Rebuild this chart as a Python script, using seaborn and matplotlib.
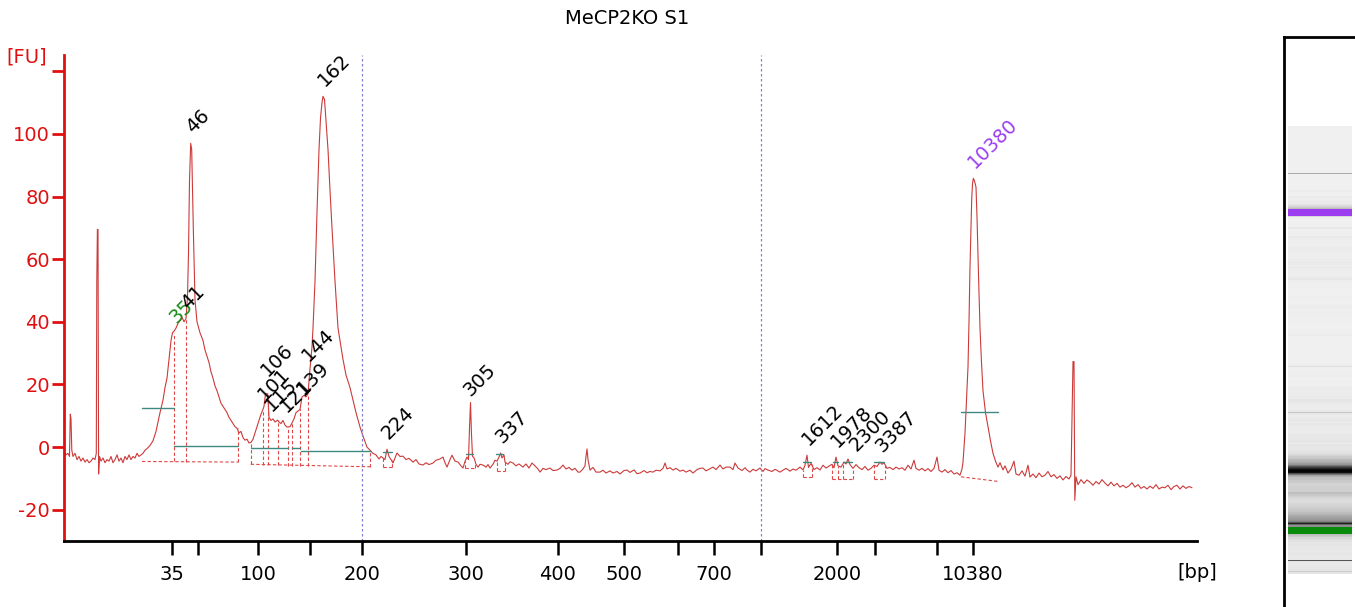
import numpy as np
import pandas as pd
import matplotlib
matplotlib.use("Agg")
import matplotlib.pyplot as plt
from matplotlib.colors import to_rgb
import seaborn as sns

# electropherogram trace: migration position vs fluorescence (FU)
trace_t = [64, 66, 68, 69.5, 70.3, 71, 71.8, 73, 75, 77, 79, 81, 83, 85, 87, 89, 91, 93, 95,
           96.3, 96.8, 97.4, 98, 98.6, 99.5, 101, 103, 105, 107, 109, 111, 113, 115, 117, 119,
           121, 123, 125, 127, 129, 131, 133, 135, 137, 139, 141, 143, 145, 147, 150, 153, 156,
           158, 160, 163, 165, 167, 169, 171, 172.5, 174, 176, 178, 180, 182, 184, 186, 187.5,
           188.5, 189.5, 190.7, 191.7, 193.3, 195, 197, 200, 203, 205, 207, 209, 211, 213, 215,
           217, 219, 221, 223, 225, 227, 229, 231, 233, 235, 237, 239, 241, 243, 245, 247, 249,
           251, 253, 255, 257, 259, 261, 262.7, 264, 265.5, 267.7, 269, 271, 273, 275, 277.7,
           279, 281, 283, 285, 287, 288, 290, 292, 294, 296, 298, 300, 302, 304, 306, 308, 310,
           312, 313, 315, 317, 319, 320.5, 322, 323, 324.5, 326, 328, 330, 332, 335, 338, 340,
           343, 346, 350, 353, 356, 360, 363, 367, 370, 373, 376, 379, 381, 383, 385, 387, 389,
           391, 393, 395, 397, 400, 403, 406, 409, 413, 416, 419, 423, 426, 429, 433, 436, 440,
           443, 445, 447, 450, 452, 455, 458, 461, 463, 465, 467, 468.5, 469.5, 470.5, 471.5,
           472.5, 474, 476, 478, 480, 483, 486, 488, 490, 493, 495, 497, 499, 500.7, 502, 504,
           505, 508, 510, 513, 516, 519, 523, 526, 529, 532, 535, 538, 540, 543, 546, 550, 553,
           557, 560, 563, 566, 569, 572, 575, 578, 580, 583, 585, 586, 587, 588, 590, 593, 596,
           600, 603, 606, 610, 613, 617, 620, 624, 627, 630, 634, 637, 640, 644, 647, 650, 653,
           656, 660, 663, 665, 667, 670, 673, 676, 680, 683, 686, 690, 693, 697, 700, 703, 706,
           710, 713, 716, 720, 723, 726, 730, 733, 735, 738, 742, 745, 747, 750, 753, 756, 760,
           763, 765, 768, 772, 775, 780, 783, 786, 790, 793, 796, 800, 803, 805, 807, 808.5, 811,
           814, 817, 820, 823, 826, 829, 832, 834, 836, 838, 841, 844, 846, 848, 850, 853, 856,
           859, 862, 865, 868, 871, 874, 877, 880, 882, 884, 887, 890, 893, 896, 899, 902, 905,
           908, 911, 914, 916, 919, 922, 925, 928, 931, 934, 937, 939, 942, 945, 948, 951, 954,
           957, 960, 962, 963, 964, 965, 966.5, 968, 969, 970, 971, 971.7, 972.5, 973.3, 974.5,
           976, 977, 978.5, 980, 981.5, 983, 985.5, 988, 990.5, 993, 995.5, 998, 1000, 1003,
           1005, 1008, 1011, 1014, 1016, 1019, 1022, 1025, 1028, 1030, 1033, 1036, 1039, 1042,
           1045, 1048, 1051, 1054, 1057, 1060, 1063, 1066, 1069, 1071, 1072, 1073, 1074, 1074.8,
           1076, 1078, 1081, 1084, 1087, 1090, 1093, 1096, 1099, 1102, 1105, 1108, 1111, 1114,
           1117, 1120, 1123, 1126, 1129, 1132, 1135, 1138, 1141, 1144, 1147, 1150, 1153, 1156,
           1159, 1162, 1165, 1168, 1171, 1174, 1177, 1180, 1183, 1186, 1189, 1192]
trace_fu = [-1.5, -2.5, -2, -3, 10.5, 9, -1, -3, -2, -4, -3, -4.5, -3.5, -4.8, -4, -5, -4.5, -3.5, -4,
            -2, 53, 69.5, 69.5, -8.6, -3, -4.5, -3.5, -5, -4, -4.5, -3, -5, -4, -2.5, -4.5,
            -3.5, -5, -3, -4, -2.5, -4, -3, -3.5, -2, -3, -2.5, -2, -1, -0.5, 0.5, 2, 5,
            8, 11, 15, 19, 22, 28, 34, 36.5, 37, 38, 39.5, 40.5, 41.5, 40, 41, 48,
            62, 85, 97, 95, 70, 47, 40, 36.5, 34, 31, 29, 27, 24, 22, 19.5,
            18, 16, 14, 13, 12, 11, 9.5, 8.5, 7.5, 6.5, 6, 4.5, 5, 3, 2.2, 2.5, 1.3,
            1.5, 2.5, 4.5, 6.4, 8.5, 10.5, 11.8, 13, 17, 17, 9.5, 8.5, 9, 8, 8.6,
            8, 7.5, 8.5, 7, 6.4, 6.4, 6.5, 7.7, 9, 11, 11.5, 12, 16, 16.5, 16, 17, 25,
            32, 38, 53, 75, 95, 105, 110, 112, 111, 104, 95, 82, 70, 53, 38, 34,
            28, 23, 19, 15, 11, 6.4, 3.5, 0, -1, -2, -2.5, -3.8, -3, -3.5, -4, -0.7, -3,
            -4, -5.1, -3.5, -1.9, -3, -2.9, -4, -3.6, -4.8, -4, -5.4, -5.75, -5, -5.6, -5.1, -4.2, -3.8,
            -3.2, -5, -6.4, -4, -2.6, -4.5, -4.8, -6, -6.7, -4.6, -3.2, -4, 6, 14.2, 4,
            -3, -3.4, -5.5, -6.4, -5.5, -5.75, -6.4, -5.6, -6.7, -5.5, -4.2, -4.5, -3.2, -1.9, -3.5, -2.5,
            -4.8, -5.5, -4.7, -5.1, -6, -5.4, -6.4, -5.4, -6.7, -5.1, -6, -7, -8, -6.8, -7.2, -6.7, -7.5,
            -7.35, -6.8, -5.75, -7, -6.5, -7.35, -6.8, -8, -8, -7, -6, -3, -0.6, -4, -7.35, -6.5, -8,
            -8, -7.4, -8.3, -7.6, -8.3, -7.8, -8.6, -7.5, -7.35, -8.1, -7.3, -8.5, -8.3, -7.5, -8.2, -7.8, -8,
            -7.4, -7.6, -6.8, -5.1, -7, -6.6, -7.35, -6.8, -7.7, -7.35, -8, -7.4, -8.3, -7.2, -6.8, -6.7, -7.6,
            -6.9, -6.4, -7.2, -5.75, -7, -6.4, -6.4, -7.2, -5.1, -6.7, -7.5, -6.6, -7.35, -8, -7.1, -7.6, -6.7,
            -7.8, -6.9, -7.35, -7.8, -7.1, -8, -7.4, -6.8, -7.7, -7, -7.4, -6.4, -7.3, -5.8, -2.6, -6.5, -5.2,
            -7.2, -6.6, -7.3, -5.8, -6.7, -6.1, -5.5, -6.6, -3.2, -6, -6.4, -4.8, -5.4, -3.8, -5.6, -6.8, -5.6,
            -6.6, -7.2, -6.2, -7.4, -6.8, -5.8, -6.2, -4.8, -5.5, -5, -6.8, -6.5, -7.2, -6.4, -7, -6.6, -7.4,
            -5.8, -7, -4.2, -6.8, -7.4, -6.8, -7.6, -6.9, -7.8, -6.8, -3.2, -7.4, -8, -7.2, -8.2, -7.5, -8.6,
            -8.2, -9, -7, -4.8, 0, 4.5, 15, 25.6, 40, 57.5, 70, 79, 84, 85.8, 85,
            83, 73.5, 55, 38, 27, 18, 11, 6.4, 2, -2, -4.5, -6.4, -5, -7.3,
            -6, -8.3, -7, -4.5, -8.6, -9, -7.6, -9.3, -5.8, -9.6, -8.6, -9.8, -8.3, -9.5,
            -9, -7.8, -9.5, -8.8, -10, -9.2, -10.5, -9.4, -10.2, -9, 10, 27.3, 27.3, -17,
            -9.5, -12, -10.4, -11.6, -10.5, -11.2, -12.2, -11, -11.8, -10.4, -11.5, -12.4, -11.2, -12.4,
            -11.6, -12.8, -12.2, -13, -12.4, -11.4, -12.8, -12, -13.2, -12.6, -13.4, -12.5, -13.2, -12,
            -13.4, -12.8, -13, -12.2, -13.6, -12.6, -12.2, -13.4, -12.4, -13.2, -12.6, -13]

# called peaks: size label, position, height
peak_labels = ["35", "41", "46", "101", "106", "115", "121", "139", "144", "162",
               "224", "305", "337", "1612", "1978", "2300", "3387", "10380"]
peak_t = [174, 186, 190.7, 262.7, 267.7, 277.7, 288, 300, 308, 323,
          387, 470.7, 500.7, 807, 836, 848, 880, 973.3]
peak_fu = [36.5, 41, 97, 11.8, 17, 8.6, 6.4, 12, 17, 112,
           -0.7, 14.2, -1.9, -2.6, -3.2, -3.8, -4.8, 85.8]

# peak width markers (t_start, t_end, fu)
width_marks = [(142, 174, 12.4), (174, 238, 0.2), (250.7, 288, -0.4), (292, 300, -0.4),
               (300.7, 370, -1.2), (383, 392, -1.6), (466, 473, -2.2), (496, 503, -2.2),
               (803, 811, -4.8), (833, 838, -4.8), (843, 852, -4.8), (874, 884, -4.8),
               (961, 998, 11.2)]
# integration baselines (t0, fu0, t1, fu1)
baselines = [(142, -4.6, 238, -4.8), (250.7, -5.5, 370, -6.3), (383, -6.4, 392, -6.4),
             (465, -6.7, 475, -6.7), (497, -7.5, 505, -7.5), (803, -9.6, 812, -9.6),
             (832, -10.2, 853, -10.2), (874, -10.2, 885, -10.2), (961, -9.5, 999, -11)]
# drop lines (t, fu_bottom, fu_top)
drops = [(174, -4.6, 36.5), (186, -4.7, 41), (238, -4.8, 6),
         (250.7, -5.5, 1.5), (262.7, -5.6, 11.8), (267.7, -5.7, 17), (277.7, -5.8, 8.6),
         (288, -5.9, 6.4), (292, -5.9, 7.7), (300, -6, 12), (308, -6, 17), (370, -6.3, -1),
         (383, -6.4, -3.5), (392, -6.4, -4), (465, -6.7, -4.6), (475, -6.7, -5),
         (497, -7.5, -4.5), (505, -7.5, -4.8), (803, -9.6, -7.3), (812, -9.6, -5.5),
         (832, -10.2, -5.5), (838, -10.2, -6), (843, -10.2, -5.2), (853, -10.2, -6.8),
         (874, -10.2, -5.8), (885, -10.2, -5.5)]

region_edges = [362, 761]
tick_t = [172, 198, 258, 310, 362, 466, 558, 624, 678, 714, 761, 837, 875, 937, 973]
tick_labels = ["35", "", "100", "", "200", "300", "400", "500", "", "700", "", "2000", "", "", "10380"]
y_ticks = [-20, 0, 20, 40, 60, 80, 100, 120]
y_tick_labels = ["-20", "0", "20", "40", "60", "80", "100", ""]

# gel lane marker zones (t0, t1, colour)
lane_markers = [(163, 182, "#0a8a0a"), (963, 985, "#9b3cf0")]

RED = "#e01010"
TRACE = "#cc3a3a"
TEAL = "#3f8a80"
label_colors = {"35": "#1a8a1a", "10380": "#9b3cf0"}
# label offsets in pixels (dx, dy)
label_off = {"106": (0, 17), "115": (-6, 8), "121": (-1, 14), "139": (4, 14),
             "144": (1, 32), "2300": (9, 7), "305": (0, 6)}

sns.set_style("white")
plt.rcParams['font.family'] = ['DejaVu Sans']
plt.rcParams['text.color'] = 'black'

W, H = 1355, 607
fig = plt.figure(figsize=(W / 100, H / 100), dpi=100)
ax = fig.add_axes([64 / W, 66 / H, 1133 / W, 486 / H])

df = pd.DataFrame({"time": trace_t, "fu": trace_fu})
sns.lineplot(data=df, x="time", y="fu", ax=ax, sort=False, estimator=None,
             color=TRACE, linewidth=0.8)

for x in region_edges:
    ax.axvline(x, color="#8080d0", linestyle=(0, (2, 2)), linewidth=0.9)

for t0, f0, t1, f1 in baselines:
    ax.plot([t0, t1], [f0, f1], color="#e04848", linestyle=(0, (3, 2)), linewidth=0.8)
for t, fb, ft in drops:
    ax.plot([t, t], [fb, ft], color="#e04848", linestyle=(0, (3, 2)), linewidth=0.8)
for t0, t1, f in width_marks:
    ax.plot([t0, t1], [f, f], color=TEAL, linewidth=1.0)

for lab, t, f in zip(peak_labels, peak_t, peak_fu):
    dx, dy = label_off.get(lab, (2, 9))
    ax.annotate(lab, xy=(t, f), xytext=(dx, dy), textcoords="offset pixels",
                rotation=45, rotation_mode="anchor", ha="left", va="baseline",
                fontsize=14, color=label_colors.get(lab, "black"))

ax.set_xlim(64, 1197)
ax.set_ylim(-30, 125.2)
ax.set_xticks(tick_t)
ax.set_xticklabels(tick_labels)
ax.set_yticks(y_ticks)
ax.set_yticklabels(y_tick_labels)
ax.set_xlabel("")
ax.set_ylabel("")
for s in ["top", "right"]:
    ax.spines[s].set_visible(False)
ax.spines["left"].set_color(RED)
ax.spines["left"].set_linewidth(2)
ax.spines["bottom"].set_color("black")
ax.spines["bottom"].set_linewidth(2)
ax.tick_params(axis="y", colors=RED, length=9, width=2, labelsize=14, pad=1, left=True)
ax.tick_params(axis="x", colors="black", length=10, width=1.8, labelsize=14, pad=7, bottom=True)

fig.text(627 / W, 1 - 18 / H, "MeCP2KO S1", ha="center", va="center", fontsize=14, color="black")
fig.text(27 / W, 1 - 57 / H, "[FU]", ha="center", va="center", fontsize=14, color=RED)
fig.text(1197 / W, 1 - 573 / H, "[bp]", ha="center", va="center", fontsize=14, color="black")

# gel-like lane built from the same trace
lane = fig.add_axes([1284 / W, 0, 71 / W, 570 / H])
t_arr = np.array(trace_t)
f_arr = np.array(trace_fu)
cell_fu = np.maximum(f_arr[:-1], f_arr[1:])
grey = np.clip(225 - 2.0 * cell_fu, 0, 240) / 255
rgb = np.stack([grey, grey, grey], axis=-1)
for t0, t1, col in lane_markers:
    mask = (t_arr[:-1] >= t0) & (t_arr[1:] <= t1) & (cell_fu > 20)
    rgb[mask] = to_rgb(col)
lane.pcolormesh([0.06, 0.96], t_arr, rgb[:, None, :], shading="flat")
lane.set_xlim(0, 1)
lane.set_ylim(-19.6, 1416.7)
lane.set_xticks([])
lane.set_yticks([])
for s in ["bottom", "right"]:
    lane.spines[s].set_visible(False)
for s in ["left", "top"]:
    lane.spines[s].set_color("black")
    lane.spines[s].set_linewidth(2)

fig.savefig("out.png", dpi=100)
